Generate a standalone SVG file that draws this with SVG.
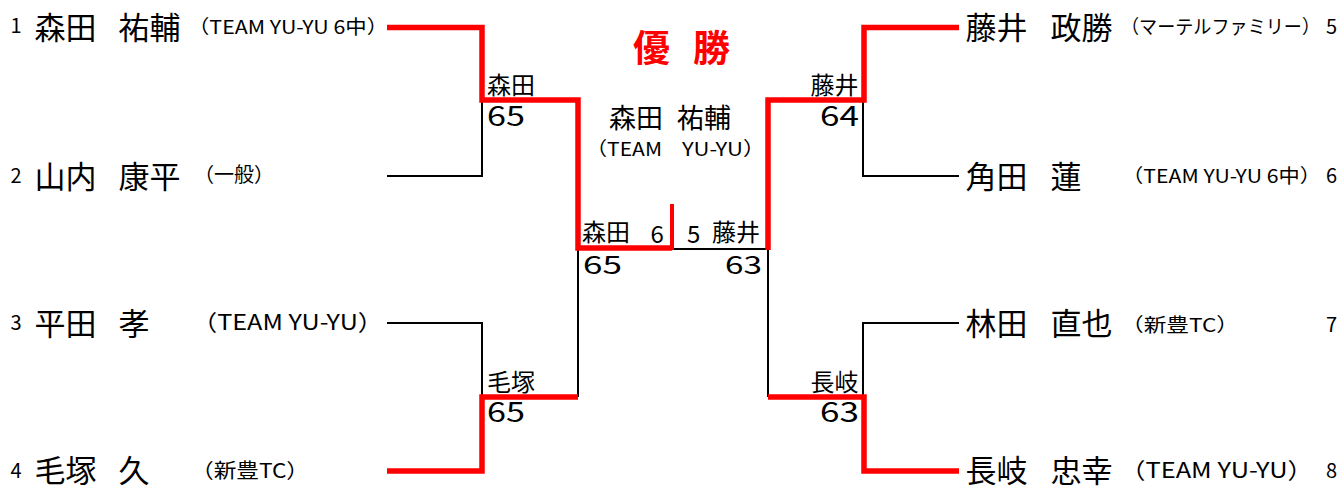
<svg xmlns="http://www.w3.org/2000/svg" width="1342" height="486" viewBox="0 0 1342 486">
<style>
text{font-family:"Noto Sans CJK JP","Noto Sans",sans-serif;fill:#000}
.seed{font-size:20px}
.name{font-size:31px}
.team{font-size:19px}
.team2{font-size:22px}
.lbl{font-size:24px}
.score{font-size:27.5px}
.score2{font-size:25px}
.end{text-anchor:end}
.mid{text-anchor:middle}
.win{stroke:#ff0000;stroke-width:5.5;fill:none}
.lose{stroke:#000;stroke-width:2;fill:none}
.title{fill:#ff0000;font-weight:bold;font-size:37px}
.champ{font-size:27px}
</style>
<rect width="1342" height="486" fill="#fff"/>
<g id="connectors">
<path class="lose" d="M387,176 H482 V100"/>
<path class="lose" d="M387,323 H482 V397"/>
<path class="lose" d="M578,248 V397"/>
<path class="lose" d="M672,249 H768 V397"/>
<path class="lose" d="M959,176 H863 V100"/>
<path class="lose" d="M959,323 H863 V397"/>
<path class="win" d="M387,27.5 H482 V100 H578 V248 H672"/>
<path class="win" style="stroke-width:4" d="M672,204 V250"/>
<path class="win" d="M387,471 H482 V397 H578"/>
<path class="win" d="M959,27.5 H864 V100 H768 V250"/>
<path class="win" d="M959,471 H864 V397 H768"/>
</g>
<g id="player1">
<text class="seed mid" x="16" y="33">1</text>
<text class="name" x="34.5" y="39">森田</text>
<text class="name" x="118.5" y="39">祐輔</text>
<text class="team" x="188" y="34" textLength="200" lengthAdjust="spacingAndGlyphs">（TEAM YU-YU 6中）</text>
</g>
<g id="player2">
<text class="seed mid" x="16" y="183">2</text>
<text class="name" x="34.5" y="188">山内</text>
<text class="name" x="118.5" y="188">康平</text>
<text class="team" style="font-size:20px" x="194" y="182">（一般）</text>
</g>
<g id="player3">
<text class="seed mid" x="16" y="330">3</text>
<text class="name" x="34.5" y="335">平田</text>
<text class="name" x="118.5" y="335">孝</text>
<text class="team2" x="192" y="330" textLength="191" lengthAdjust="spacingAndGlyphs">（TEAM YU-YU）</text>
</g>
<g id="player4">
<text class="seed mid" x="16" y="478">4</text>
<text class="name" x="34.5" y="481.5">毛塚</text>
<text class="name" x="118.5" y="481.5">久</text>
<text class="team" style="font-size:20px" x="191" y="478" textLength="118" lengthAdjust="spacingAndGlyphs">（新豊TC）</text>
</g>
<g id="player5">
<text class="name" x="965.5" y="39">藤井</text>
<text class="name" x="1050.5" y="39">政勝</text>
<text class="team" x="1121" y="34" textLength="199" lengthAdjust="spacingAndGlyphs">（マーテルファミリー）</text>
<text class="seed mid" x="1331.5" y="34">5</text>
</g>
<g id="player6">
<text class="name" x="965.5" y="188">角田</text>
<text class="name" x="1050.5" y="188">蓮</text>
<text class="team" x="1122" y="183" textLength="199" lengthAdjust="spacingAndGlyphs">（TEAM YU-YU 6中）</text>
<text class="seed mid" x="1331.5" y="183">6</text>
</g>
<g id="player7">
<text class="name" x="965.5" y="335">林田</text>
<text class="name" x="1050.5" y="335">直也</text>
<text class="team" x="1121" y="332" textLength="118" lengthAdjust="spacingAndGlyphs">（新豊TC）</text>
<text class="seed mid" x="1331.5" y="332">7</text>
</g>
<g id="player8">
<text class="name" x="965.5" y="481.5">長岐</text>
<text class="name" x="1050.5" y="481.5">忠幸</text>
<text class="team2" x="1120" y="478" textLength="193" lengthAdjust="spacingAndGlyphs">（TEAM YU-YU）</text>
<text class="seed mid" x="1331.5" y="478">8</text>
</g>
<g id="champion">
<text class="title" x="633" y="62">優</text>
<text class="title" x="693" y="62">勝</text>
<text class="champ" x="609" y="128">森田</text>
<text class="champ" x="677" y="128">祐輔</text>
<text class="team" x="586" y="156" textLength="76" lengthAdjust="spacingAndGlyphs">（TEAM</text>
<text class="team" x="682" y="156" textLength="83" lengthAdjust="spacingAndGlyphs">YU-YU）</text>
</g>
<g id="match-sf1">
<text class="lbl" x="487" y="93.5">森田</text>
<text class="score" x="487" y="126" textLength="38" lengthAdjust="spacingAndGlyphs">65</text>
</g>
<g id="match-sf2">
<text class="lbl" x="487" y="390.5">毛塚</text>
<text class="score" x="487" y="422" textLength="38" lengthAdjust="spacingAndGlyphs">65</text>
</g>
<g id="match-sf3">
<text class="lbl end" x="858.5" y="93.5">藤井</text>
<text class="score" x="820" y="126" textLength="39" lengthAdjust="spacingAndGlyphs">64</text>
</g>
<g id="match-sf4">
<text class="lbl end" x="858.5" y="390.5">長岐</text>
<text class="score" x="820" y="422" textLength="39" lengthAdjust="spacingAndGlyphs">63</text>
</g>
<g id="match-final">
<text class="lbl" x="582" y="241">森田</text>
<text class="lbl" x="650.5" y="243">6</text>
<text class="lbl" x="687" y="243">5</text>
<text class="lbl" x="712" y="241">藤井</text>
<text class="score2" x="583" y="274" textLength="39" lengthAdjust="spacingAndGlyphs">65</text>
<text class="score2" x="725" y="274" textLength="37" lengthAdjust="spacingAndGlyphs">63</text>
</g>
</svg>
